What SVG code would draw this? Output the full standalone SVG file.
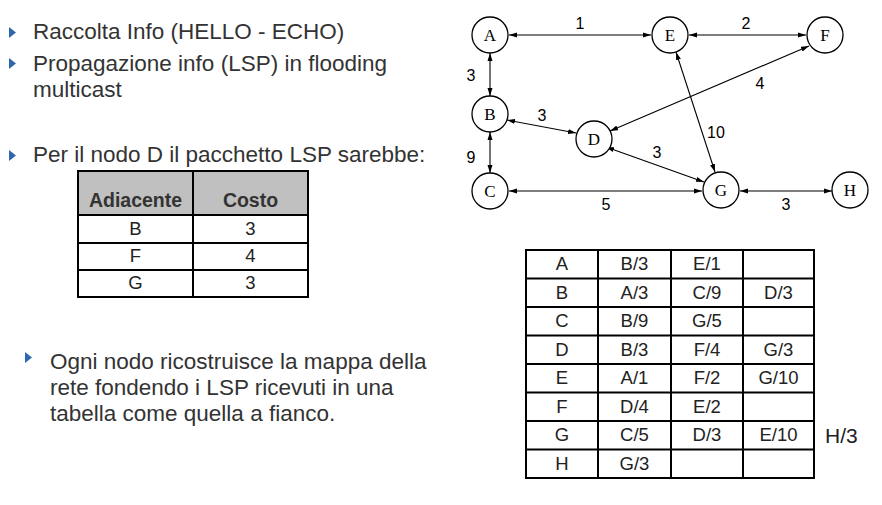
<svg xmlns="http://www.w3.org/2000/svg" width="882" height="505" viewBox="0 0 882 505">
<defs>
<marker id="ah" viewBox="0 0 8 6" refX="8" refY="3" markerWidth="8" markerHeight="6" markerUnits="userSpaceOnUse" orient="auto-start-reverse">
<path d="M0,0.5 L8,3 L0,5.5 Z" fill="#000"/>
</marker>
</defs>
<style>
.t{font-family:"Liberation Sans",Arial,sans-serif;font-size:22.5px;fill:#333}
.bul{fill:#2f66ad}
.nd{fill:#fff;stroke:#000;stroke-width:1.3}
.nl{font-family:"Liberation Serif","Times New Roman",serif;font-size:17px;fill:#000;text-anchor:middle}
.ed{stroke:#000;stroke-width:1.1;fill:none;marker-start:url(#ah);marker-end:url(#ah)}
.el{font-family:"Liberation Sans",Arial,sans-serif;font-size:16px;fill:#000;text-anchor:middle}
.tb{fill:none;stroke:#000;stroke-width:2}
.tt{font-family:"Liberation Sans",Arial,sans-serif;font-size:18.5px;fill:#222;text-anchor:middle}
.th{font-family:"Liberation Sans",Arial,sans-serif;font-size:19.5px;font-weight:bold;fill:#333;text-anchor:middle}
</style>
<rect width="882" height="505" fill="#fff"/>

<g id="bullets">
<path class="bul" d="M9,27 L16,32.5 L9,38 Z"/>
<path class="bul" d="M9,58 L16,63.5 L9,69 Z"/>
<path class="bul" d="M9,150 L16,155.5 L9,161 Z"/>
<path class="bul" d="M25,352 L32,357.5 L25,363 Z"/>
</g>
<g id="text-left">
<text class="t" x="33" y="39">Raccolta Info (HELLO - ECHO)</text>
<text class="t" x="33" y="71">Propagazione info (LSP) in flooding</text>
<text class="t" x="33" y="97">multicast</text>
<text class="t" x="33" y="162">Per il nodo D il pacchetto LSP sarebbe:</text>
<text class="t" x="50" y="369">Ogni nodo ricostruisce la mappa della</text>
<text class="t" x="50" y="395">rete fondendo i LSP ricevuti in una</text>
<text class="t" x="50" y="421">tabella come quella a fianco.</text>
</g>

<g id="lsp-table">
<rect x="78" y="171" width="230" height="44" fill="#c0c0c0"/>
<rect class="tb" x="78" y="171" width="230" height="126"/>
<line class="tb" x1="78" y1="215" x2="308" y2="215"/>
<line class="tb" x1="78" y1="243" x2="308" y2="243"/>
<line class="tb" x1="78" y1="270" x2="308" y2="270"/>
<line class="tb" x1="193" y1="171" x2="193" y2="297"/>
<text class="th" x="135.5" y="207">Adiacente</text>
<text class="th" x="250.5" y="207">Costo</text>
<text class="tt" x="135.5" y="235">B</text><text class="tt" x="250.5" y="235">3</text>
<text class="tt" x="135.5" y="262">F</text><text class="tt" x="250.5" y="262">4</text>
<text class="tt" x="135.5" y="289">G</text><text class="tt" x="250.5" y="289">3</text>
</g>

<g id="connectors">
<line class="ed" x1="509" y1="35" x2="651" y2="35"/>
<line class="ed" x1="689" y1="35" x2="806" y2="35"/>
<line class="ed" x1="490" y1="53" x2="490" y2="96"/>
<line class="ed" x1="490" y1="132" x2="490" y2="173"/>
<line class="ed" x1="507" y1="120" x2="576" y2="133"/>
<line class="ed" x1="809" y1="46" x2="610" y2="131"/>
<line class="ed" x1="676" y1="52" x2="715" y2="172"/>
<line class="ed" x1="606" y1="147" x2="704" y2="182"/>
<line class="ed" x1="509" y1="191" x2="702" y2="191"/>
<line class="ed" x1="740" y1="191" x2="832" y2="191"/>
<text class="el" x="580" y="29">1</text>
<text class="el" x="746" y="29">2</text>
<text class="el" x="471" y="81">3</text>
<text class="el" x="542" y="121">3</text>
<text class="el" x="760" y="89">4</text>
<text class="el" x="471" y="163">9</text>
<text class="el" x="716" y="138">10</text>
<text class="el" x="657" y="158">3</text>
<text class="el" x="606" y="210">5</text>
<text class="el" x="786" y="210">3</text>
</g>

<g id="node-A"><circle class="nd" cx="490" cy="35" r="18"/><text class="nl" x="490" y="41">A</text></g>
<g id="node-E"><circle class="nd" cx="670" cy="35" r="18"/><text class="nl" x="670" y="41">E</text></g>
<g id="node-F"><circle class="nd" cx="825" cy="35" r="18"/><text class="nl" x="825" y="41">F</text></g>
<g id="node-B"><circle class="nd" cx="490" cy="114" r="18"/><text class="nl" x="490" y="120">B</text></g>
<g id="node-D"><circle class="nd" cx="594" cy="139" r="18"/><text class="nl" x="594" y="145">D</text></g>
<g id="node-C"><circle class="nd" cx="490" cy="191" r="18"/><text class="nl" x="490" y="197">C</text></g>
<g id="node-G"><circle class="nd" cx="721" cy="190" r="18"/><text class="nl" x="721" y="196">G</text></g>
<g id="node-H"><circle class="nd" cx="850" cy="190" r="18"/><text class="nl" x="850" y="196">H</text></g>

<g id="map-table">
<rect class="tb" x="526" y="250" width="288" height="228"/>
<line class="tb" x1="526" y1="278.5" x2="814" y2="278.5"/>
<line class="tb" x1="526" y1="307" x2="814" y2="307"/>
<line class="tb" x1="526" y1="335.5" x2="814" y2="335.5"/>
<line class="tb" x1="526" y1="364" x2="814" y2="364"/>
<line class="tb" x1="526" y1="392.5" x2="814" y2="392.5"/>
<line class="tb" x1="526" y1="421" x2="814" y2="421"/>
<line class="tb" x1="526" y1="449.5" x2="814" y2="449.5"/>
<line class="tb" x1="598" y1="250" x2="598" y2="478"/>
<line class="tb" x1="671" y1="250" x2="671" y2="478"/>
<line class="tb" x1="743" y1="250" x2="743" y2="478"/>
<text class="tt" x="562" y="270">A</text><text class="tt" x="634.5" y="270">B/3</text><text class="tt" x="707" y="270">E/1</text>
<text class="tt" x="562" y="298.5">B</text><text class="tt" x="634.5" y="298.5">A/3</text><text class="tt" x="707" y="298.5">C/9</text><text class="tt" x="778.5" y="298.5">D/3</text>
<text class="tt" x="562" y="327">C</text><text class="tt" x="634.5" y="327">B/9</text><text class="tt" x="707" y="327">G/5</text>
<text class="tt" x="562" y="355.5">D</text><text class="tt" x="634.5" y="355.5">B/3</text><text class="tt" x="707" y="355.5">F/4</text><text class="tt" x="778.5" y="355.5">G/3</text>
<text class="tt" x="562" y="384">E</text><text class="tt" x="634.5" y="384">A/1</text><text class="tt" x="707" y="384">F/2</text><text class="tt" x="778.5" y="384">G/10</text>
<text class="tt" x="562" y="412.5">F</text><text class="tt" x="634.5" y="412.5">D/4</text><text class="tt" x="707" y="412.5">E/2</text>
<text class="tt" x="562" y="441">G</text><text class="tt" x="634.5" y="441">C/5</text><text class="tt" x="707" y="441">D/3</text><text class="tt" x="778.5" y="441">E/10</text>
<text class="tt" x="562" y="469.5">H</text><text class="tt" x="634.5" y="469.5">G/3</text>
<text class="tt" x="825" y="443" style="text-anchor:start;font-size:21px">H/3</text>
</g>
</svg>
